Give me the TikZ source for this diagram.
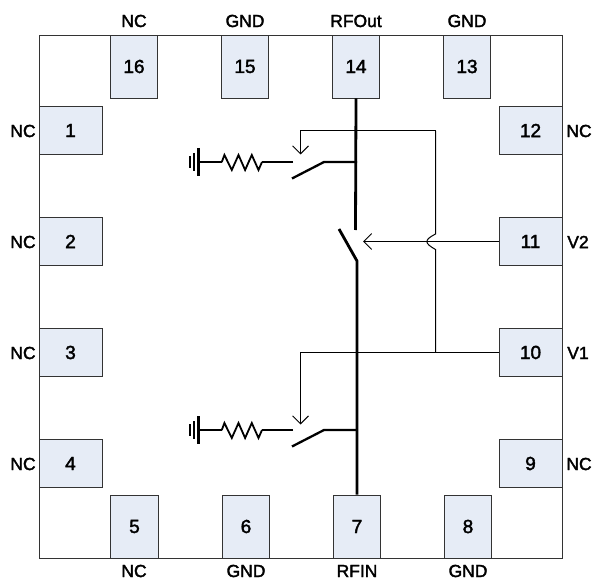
\documentclass[tikz,border=0pt]{standalone}
\usepackage{fontspec}
\newfontfamily\pinfont[FakeBold=2]{Liberation Sans}
\usetikzlibrary{arrows.meta}
\definecolor{pad area}{HTML}{E6ECF6}
\colorlet{pad edge}{black!80}
\tikzset{
  padtall/.style={pad, minimum width=47.5pt, minimum height=63pt},
  padwide/.style={pad, minimum width=63pt, minimum height=47.5pt},
  pad/.style={rectangle, fill=pad area, draw=pad edge, line width=0.9pt, inner sep=0pt, font=\fontsize{19}{19}\pinfont},
  pinlabel/.style={inner sep=0pt, font=\fontsize{17.5}{17.5}\pinfont},
  }
\tikzstyle{rfline} = [draw, line width=2.8pt, -]
\tikzstyle{stub} = [draw, line width=2.3pt, -]
\tikzstyle{ctrl} = [draw, line width=1pt, -]
\tikzstyle{ctrlarrow} = [ctrl, -{Straight Barb[length=8pt, width=16pt, line width=0.9pt]}]

\begin{document}
\begin{tikzpicture}[x=1pt, y=-1pt]
       \useasboundingbox (0,0) rectangle (594,580);
       \draw[line width=0.9pt, draw=pad edge] (39,35) rectangle (562,558);

       % pads
       \foreach \pos/\name/\num in {{(134,66.5)/p16/16}, {(245,66.5)/p15/15}, {(356,66.5)/p14/14}, {(467,66.5)/p13/13},
                                    {(134.5,526.5)/p5/5}, {(246,526.5)/p6/6}, {(357,526.5)/p7/7}, {(468,526.5)/p8/8}} {
           \node[padtall] (\name) at \pos {\num};
       }
       \foreach \pos/\name/\num in {{(70.5,130.5)/p1/1}, {(70.5,241.5)/p2/2}, {(70.5,352.5)/p3/3}, {(70.5,463.5)/p4/4},
                                    {(530.5,130.5)/p12/12}, {(530.5,241.5)/p11/11}, {(530.5,352.5)/p10/10}, {(530.5,463.5)/p9/9}} {
           \node[padwide] (\name) at \pos {\num};
       }

       % pin names
       \foreach \pos/\name/\txt in {{(134,21)/n16/NC}, {(245,21)/n15/GND}, {(356,21)/n14/RFOut}, {(467,21)/n13/GND},
                                    {(134,571)/n5/NC}, {(246,571)/n6/GND}, {(357,571)/n7/RFIN}, {(468,571)/n8/GND},
                                    {(23,131)/n1/NC}, {(23,242)/n2/NC}, {(23,353)/n3/NC}, {(23,464)/n4/NC},
                                    {(579,131)/n12/NC}, {(578,242)/n11/V2}, {(578,353)/n10/V1}, {(579,464)/n9/NC}} {
           \node[pinlabel] (\name) at \pos {\txt};
       }

       % series switch
       \coordinate (bladetop) at (339,229);
       \coordinate (hinge) at (357,261);
       \coordinate (contact) at (355.5,230);
       \draw[rfline] (p14.south) -- (contact);
       \draw[rfline] (bladetop) -- (hinge) -- (p7.north);

       % shunt arms
       \foreach \y/\name in {162/top, 430/bot} {
           \coordinate (\name tap) at (357,\y);
           \coordinate (\name elbow) at (324,\y);
           \coordinate (\name blade) at (292,\y+16.5);
           \coordinate (\name stub) at (293,\y);
           \coordinate (\name res) at (262,\y);
           \coordinate (\name gnd) at (198.5,\y);
           \draw[stub] (\name tap) -- (\name elbow) -- (\name blade);
           \draw[stub] (\name stub) -- (\name res);
           \draw[line width=1.8pt] (\name res) -- ++(-3.5,8) -- ++(-6.7,-15) -- ++(-6.7,15) -- ++(-6.6,-15) -- ++(-6.7,15) -- ++(-7.4,-15) -- ++(-2.6,7);
           \draw[stub] (222,\y) -- (\name gnd);
           \draw[stub] (198.5,\y-14) -- (198.5,\y+14);
           \draw[line width=2pt] (194,\y-9) -- (194,\y+9);
           \draw[line width=2pt] (189.5,\y-6) -- (189.5,\y+6);
       }

       % control lines
       \coordinate (v1tee) at (435.5,352.5);
       \coordinate (hoplow) at (435.5,249.5);
       \coordinate (hopup) at (435.5,234);
       \coordinate (topcorner) at (435.5,131);
       \coordinate (topdrop) at (300.5,131);
       \coordinate (toptip) at (300.5,154.5);
       \coordinate (botcorner) at (300.5,352.5);
       \coordinate (bottip) at (300.5,424.5);
       \coordinate (v2tip) at (363,241.5);
       \draw[ctrl] (v1tee) -- (hoplow) .. controls (424,243) and (424,240) .. (hopup) -- (topcorner);
       \draw[ctrlarrow] (topcorner) -- (topdrop) -- (toptip);
       \draw[ctrlarrow] (p10.west) -- (botcorner) -- (bottip);
       \draw[ctrlarrow] (p11.west) -- (v2tip);
\end{tikzpicture}
\end{document}
